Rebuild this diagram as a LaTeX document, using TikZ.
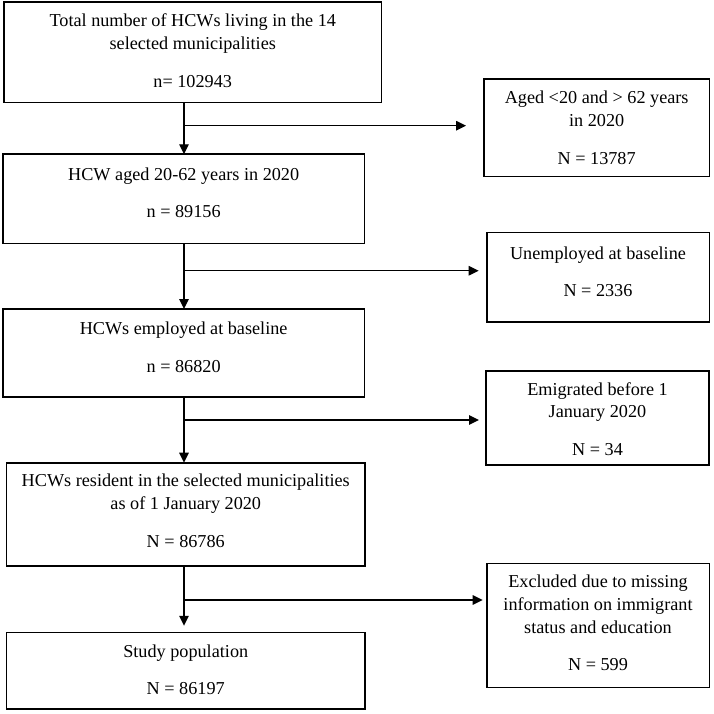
\documentclass[tikz,border=0pt]{standalone}
\usepackage{fontspec}
\setmainfont{Liberation Serif}
\usetikzlibrary{arrows.meta}
\begin{document}
\begin{tikzpicture}[x=1pt,y=-1pt,
  box/.style={draw, line width=1.6pt, inner sep=0pt, outer sep=0pt, rectangle},
  txt/.style={align=center, inner sep=0pt, font=\fontsize{18.2}{22.8}\selectfont},
  arr/.style={line width=1.4pt, -{Triangle[length=10pt,width=9.5pt]}}]
\useasboundingbox (0,0) rectangle (714,714);

% left column boxes
\node[box, minimum width=377.5pt, minimum height=100.5pt] (b1) at (192.75,52.25) {};
\node[box, minimum width=361.3pt, minimum height=89pt] (b2) at (183.65,198.8) {};
\node[box, minimum width=361.3pt, minimum height=87.7pt] (b3) at (183.65,352.85) {};
\node[box, minimum width=358.5pt, minimum height=103.3pt] (b4) at (185.75,514.35) {};
\node[box, minimum width=358.5pt, minimum height=76.7pt] (b5) at (185.75,670.65) {};

% right column boxes
\node[box, minimum width=225.3pt, minimum height=97.7pt] (r1) at (596.65,127.85) {};
\node[box, minimum width=222.6pt, minimum height=89.4pt] (r2) at (598,277) {};
\node[box, minimum width=223pt, minimum height=94.3pt] (r3) at (597.5,417.85) {};
\node[box, minimum width=222.6pt, minimum height=124pt] (r4) at (598,625.3) {};

% texts
\node[txt] (t1) at (192.75,50.7) {Total number of HCWs living in the 14\\selected municipalities\\[14.5pt]n= 102943};
\node[txt] (t2) at (183.65,192.5) {HCW aged 20-62 years in 2020\\[14.5pt]n = 89156};
\node[txt] (t3) at (183.65,347.3) {HCWs employed at baseline\\[14.5pt]n = 86820};
\node[txt] (t4) at (185.75,510.8) {HCWs resident in the selected municipalities\\as of 1 January 2020\\[14.5pt]N = 86786};
\node[txt] (t5) at (185.75,669.7) {Study population\\[14.5pt]N = 86197};
\node[txt] (u1) at (596.65,127.8) {Aged <20 and > 62 years\\in 2020\\[14.5pt]N = 13787};
\node[txt] (u2) at (598,272) {Unemployed at baseline\\[14.5pt]N = 2336};
\node[txt] (u3) at (597.5,418.8) {Emigrated before 1\\January 2020\\[14.5pt]N = 34};
\node[txt] (u4) at (598,622.8) {Excluded due to missing\\information on immigrant\\status and education\\[14.5pt]N = 599};

% connectors
\coordinate (ax) at (184,0);
\draw[arr] (b1.south -| ax) -- (b2.north -| ax);
\draw[arr] (b2.south -| ax) -- (b3.north -| ax);
\draw[arr] (b3.south -| ax) -- (b4.north -| ax);
\draw[arr, shorten >=6.5pt] (b4.south -| ax) -- (b5.north -| ax);

\coordinate (j1) at (184,125.7);
\coordinate (j2) at (184,270.7);
\coordinate (j3) at (184,420);
\coordinate (j4) at (184,600);
\draw[arr, shorten >=18pt] (j1) -- (j1 -| r1.west);
\draw[arr, shorten >=8pt] (j2) -- (j2 -| r2.west);
\draw[arr, shorten >=7pt] (j3) -- (j3 -| r3.west);
\draw[arr, shorten >=4pt] (j4) -- (j4 -| r4.west);
\end{tikzpicture}
\end{document}
